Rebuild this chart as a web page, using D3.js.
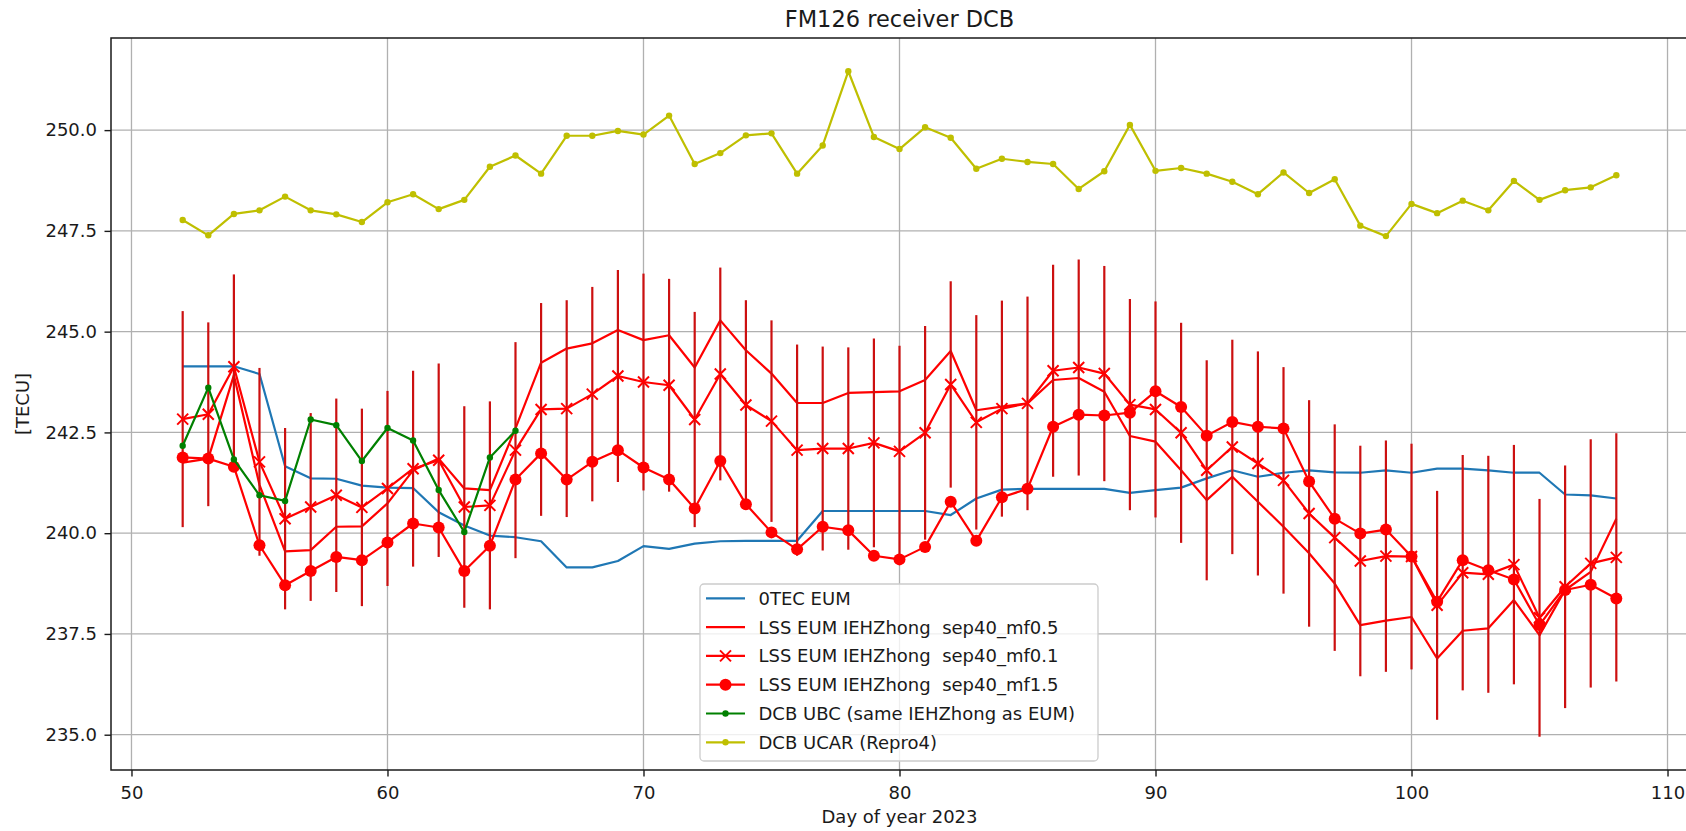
<!DOCTYPE html>
<html><head><meta charset="utf-8">
<script src="https://cdn.jsdelivr.net/npm/d3@7"></script>
<style>
body{margin:0;background:#fff;}
svg text{font-family:"DejaVu Sans",sans-serif;fill:#1a1a1a;}
</style>
</head><body>
<svg id="chart" width="1686" height="831"></svg>
<script>
// ---------- data ----------
const days = [52,53,54,55,56,57,58,59,60,61,62,63,64,65,66,67,68,69,70,71,72,73,74,75,76,77,78,79,80,81,
  82,83,84,85,86,87,88,89,90,91,92,93,94,95,96,97,98,99,100,101,102,103,104,105,106,107,108];
const ubcDays = [52,53,54,55,56,57,58,59,60,61,62,63,64,65];

const tecEUM = [244.14,244.14,244.14,243.95,241.66,241.36,241.35,241.18,241.13,241.12,
  240.52,240.19,239.94,239.90,239.80,239.15,239.15,239.31,239.68,239.61,
  239.74,239.80,239.81,239.81,239.81,240.55,240.55,240.55,240.55,240.55,
  240.45,240.86,241.08,241.10,241.10,241.10,241.10,241.00,241.07,241.13,
  241.36,241.56,241.40,241.50,241.56,241.51,241.50,241.56,241.50,241.60,
  241.60,241.56,241.50,241.50,240.96,240.94,240.86];

const lssMf05 = [241.75,241.85,243.92,241.20,239.55,239.58,240.16,240.17,240.74,241.56,
  241.85,241.11,241.07,242.60,244.23,244.58,244.71,245.04,244.79,244.91,
  244.11,245.28,244.54,243.96,243.23,243.23,243.48,243.50,243.52,243.80,
  244.52,243.05,243.14,243.22,243.80,243.85,243.51,242.41,242.27,241.56,
  240.82,241.40,240.78,240.16,239.50,238.75,237.72,237.83,237.92,236.89,
  237.58,237.64,238.34,237.47,238.59,239.04,240.36];

const lssMf01 = [242.83,242.95,244.13,241.77,240.36,240.65,240.94,240.64,241.11,241.60,
  241.81,240.65,240.69,242.06,243.07,243.09,243.45,243.90,243.75,243.67,
  242.82,243.95,243.18,242.78,242.06,242.10,242.10,242.24,242.03,242.49,
  243.69,242.75,243.09,243.22,244.03,244.11,243.96,243.19,243.07,242.49,
  241.56,242.14,241.73,241.31,240.49,239.89,239.31,239.43,239.42,238.21,
  239.02,238.98,239.22,237.90,238.67,239.25,239.40];

const lssMf01Err = [2.68,2.28,2.29,2.33,2.25,2.33,2.40,2.45,2.42,2.43,
  2.40,2.50,2.58,2.68,2.64,2.69,2.66,2.63,2.69,2.64,
  2.67,2.64,2.60,2.50,2.62,2.53,2.51,2.59,2.62,2.65,
  2.56,2.66,2.68,2.65,2.63,2.68,2.67,2.62,2.68,2.73,
  2.73,2.66,2.78,2.81,2.81,2.81,2.86,2.87,2.80,2.84,
  2.92,2.94,2.97,2.95,3.01,3.08,3.08];

const lssMf15 = [241.88,241.85,241.65,239.70,238.71,239.06,239.41,239.33,239.77,240.24,
  240.14,239.06,239.69,241.33,241.98,241.33,241.77,242.06,241.63,241.33,
  240.61,241.79,240.72,240.02,239.60,240.16,240.07,239.44,239.35,239.66,
  240.78,239.81,240.89,241.10,242.64,242.94,242.92,242.99,243.52,243.13,
  242.42,242.76,242.64,242.60,241.28,240.36,239.99,240.09,239.42,238.30,
  239.33,239.08,238.85,237.72,238.59,238.72,238.38];

const ubc = [242.17,243.61,241.83,240.94,240.80,242.82,242.68,241.79,242.61,242.30,241.07,240.03,241.88,242.54];

const ucar = [247.77,247.39,247.92,248.01,248.35,248.01,247.91,247.72,248.21,248.41,
  248.04,248.27,249.09,249.37,248.92,249.86,249.86,249.98,249.89,250.36,
  249.16,249.43,249.87,249.92,248.92,249.62,251.46,249.83,249.53,250.07,
  249.81,249.04,249.29,249.21,249.16,248.54,248.98,250.13,248.99,249.06,
  248.92,248.72,248.41,248.95,248.44,248.78,247.63,247.37,248.17,247.94,
  248.25,248.01,248.74,248.27,248.51,248.58,248.88];

const xTicks = [50,60,70,80,90,100,110];
const yTicks = [235.0,237.5,240.0,242.5,245.0,247.5,250.0];

const legendLabels = ["0TEC EUM","LSS EUM IEHZhong  sep40_mf0.5","LSS EUM IEHZhong  sep40_mf0.1",
  "LSS EUM IEHZhong  sep40_mf1.5","DCB UBC (same IEHZhong as EUM)","DCB UCAR (Repro4)"];

// ---------- layout ----------
const svg = d3.select("#chart");
const L = 111, T = 38, R = 1688, B = 770;

const xPad = 0.05*(d3.max(days)-d3.min(days));
const x = d3.scaleLinear().domain([d3.min(days)-xPad, d3.max(days)+xPad]).range([L, R]);

const lows = [].concat(tecEUM, lssMf05, lssMf15, ubc, ucar, lssMf01.map((v,i)=>v-lssMf01Err[i]));
const highs = [].concat(tecEUM, lssMf05, lssMf15, ubc, ucar, lssMf01.map((v,i)=>v+lssMf01Err[i]));
const yMin = d3.min(lows), yMax = d3.max(highs), yPad = 0.05*(yMax-yMin);
const y = d3.scaleLinear().domain([yMin-yPad, yMax+yPad]).range([B, T]);

const RED = "#ff0000", ERR = "#cc1010", BLUE = "#1f77b4", GREEN = "#008000", YEL = "#bfbf00";

// grid
const grid = svg.append("g");
grid.selectAll("line.gx").data(xTicks).join("line")
  .attr("x1", d=>x(d)).attr("x2", d=>x(d)).attr("y1", T).attr("y2", B)
  .attr("stroke", "#b0b0b0").attr("stroke-width", 1.3);
grid.selectAll("line.gy").data(yTicks).join("line")
  .attr("x1", L).attr("x2", R).attr("y1", d=>y(d)).attr("y2", d=>y(d))
  .attr("stroke", "#b0b0b0").attr("stroke-width", 1.3);

const line = (xs, ys) => d3.line().x((d,i)=>x(xs[i])).y(d=>y(d))(ys);

// 0TEC EUM
svg.append("path").attr("d", line(days, tecEUM)).attr("fill","none")
  .attr("stroke", BLUE).attr("stroke-width", 2.2).attr("stroke-linejoin","round");

// mf0.5
svg.append("path").attr("d", line(days, lssMf05)).attr("fill","none")
  .attr("stroke", RED).attr("stroke-width", 2.2).attr("stroke-linejoin","round");

// mf0.1 with error bars
svg.append("g").selectAll("line").data(lssMf01).join("line")
  .attr("x1", (d,i)=>x(days[i])).attr("x2", (d,i)=>x(days[i]))
  .attr("y1", (d,i)=>y(d+lssMf01Err[i])).attr("y2", (d,i)=>y(d-lssMf01Err[i]))
  .attr("stroke", ERR).attr("stroke-width", 2.2);
svg.append("path").attr("d", line(days, lssMf01)).attr("fill","none")
  .attr("stroke", RED).attr("stroke-width", 2.2).attr("stroke-linejoin","round");
const xMark = (g, cx, cy, s) => {
  g.append("path").attr("d", `M${cx-s},${cy-s}L${cx+s},${cy+s}M${cx-s},${cy+s}L${cx+s},${cy-s}`)
   .attr("stroke", RED).attr("stroke-width", 2).attr("fill","none");
};
const xg = svg.append("g");
lssMf01.forEach((v,i)=>xMark(xg, x(days[i]), y(v), 5.5));

// mf1.5
svg.append("path").attr("d", line(days, lssMf15)).attr("fill","none")
  .attr("stroke", RED).attr("stroke-width", 2.2).attr("stroke-linejoin","round");
svg.append("g").selectAll("circle").data(lssMf15).join("circle")
  .attr("cx", (d,i)=>x(days[i])).attr("cy", d=>y(d)).attr("r", 6).attr("fill", RED);

// UBC
svg.append("path").attr("d", line(ubcDays, ubc)).attr("fill","none")
  .attr("stroke", GREEN).attr("stroke-width", 2.2).attr("stroke-linejoin","round");
svg.append("g").selectAll("circle").data(ubc).join("circle")
  .attr("cx", (d,i)=>x(ubcDays[i])).attr("cy", d=>y(d)).attr("r", 3.2).attr("fill", GREEN);

// UCAR
svg.append("path").attr("d", line(days, ucar)).attr("fill","none")
  .attr("stroke", YEL).attr("stroke-width", 2.2).attr("stroke-linejoin","round");
svg.append("g").selectAll("circle").data(ucar).join("circle")
  .attr("cx", (d,i)=>x(days[i])).attr("cy", d=>y(d)).attr("r", 3.2).attr("fill", YEL);

// axes
const xAxis = svg.append("g").attr("transform", `translate(0,${B})`)
  .call(d3.axisBottom(x).tickValues(xTicks).tickFormat(d3.format("d")).tickSize(6.5).tickPadding(9.5));
const yAxis = svg.append("g").attr("transform", `translate(${L},0)`)
  .call(d3.axisLeft(y).tickValues(yTicks).tickFormat(d3.format(".1f")).tickSize(6.5).tickPadding(7.5));
[xAxis, yAxis].forEach(a=>{
  a.select(".domain").remove();
  a.selectAll(".tick line").attr("stroke","#1a1a1a").attr("stroke-width",1.4);
  a.selectAll(".tick text").attr("font-size", 18).style("font-family","DejaVu Sans").attr("fill","#1a1a1a");
});
// spines
svg.append("rect").attr("x", L).attr("y", T).attr("width", R-L).attr("height", B-T)
  .attr("fill","none").attr("stroke","#1a1a1a").attr("stroke-width",1.5);

// titles
svg.append("text").attr("x", (L+R)/2).attr("y", 27).attr("text-anchor","middle")
  .attr("font-size", 22.5).text("FM126 receiver DCB");
svg.append("text").attr("x", (L+R)/2).attr("y", 823).attr("text-anchor","middle")
  .attr("font-size", 18).text("Day of year 2023");
svg.append("text").attr("transform", `translate(29,${(T+B)/2}) rotate(-90)`).attr("text-anchor","middle")
  .attr("font-size", 18).text("[TECU]");

// legend
const lg = svg.append("g");
lg.append("rect").attr("x", 700).attr("y", 584).attr("width", 398).attr("height", 177).attr("rx", 4)
  .attr("fill","#fff").attr("fill-opacity",0.8).attr("stroke","#cccccc").attr("stroke-width",1.3);
const lcol = [BLUE, RED, RED, RED, GREEN, YEL];
legendLabels.forEach((lab,i)=>{
  const yy = 598.3 + i*28.8;
  lg.append("line").attr("x1",706).attr("x2",745).attr("y1",yy).attr("y2",yy)
    .attr("stroke", lcol[i]).attr("stroke-width",2.2);
  if (i===2) xMark(lg, 725.5, yy, 5.5);
  if (i===3) lg.append("circle").attr("cx",725.5).attr("cy",yy).attr("r",6).attr("fill",RED);
  if (i>=4) lg.append("circle").attr("cx",725.5).attr("cy",yy).attr("r",3.2).attr("fill",lcol[i]);
  lg.append("text").attr("x",758.5).attr("y",yy).attr("dy","0.36em").attr("font-size",18)
    .style("white-space","pre").text(lab);
});
</script>
</body></html>
